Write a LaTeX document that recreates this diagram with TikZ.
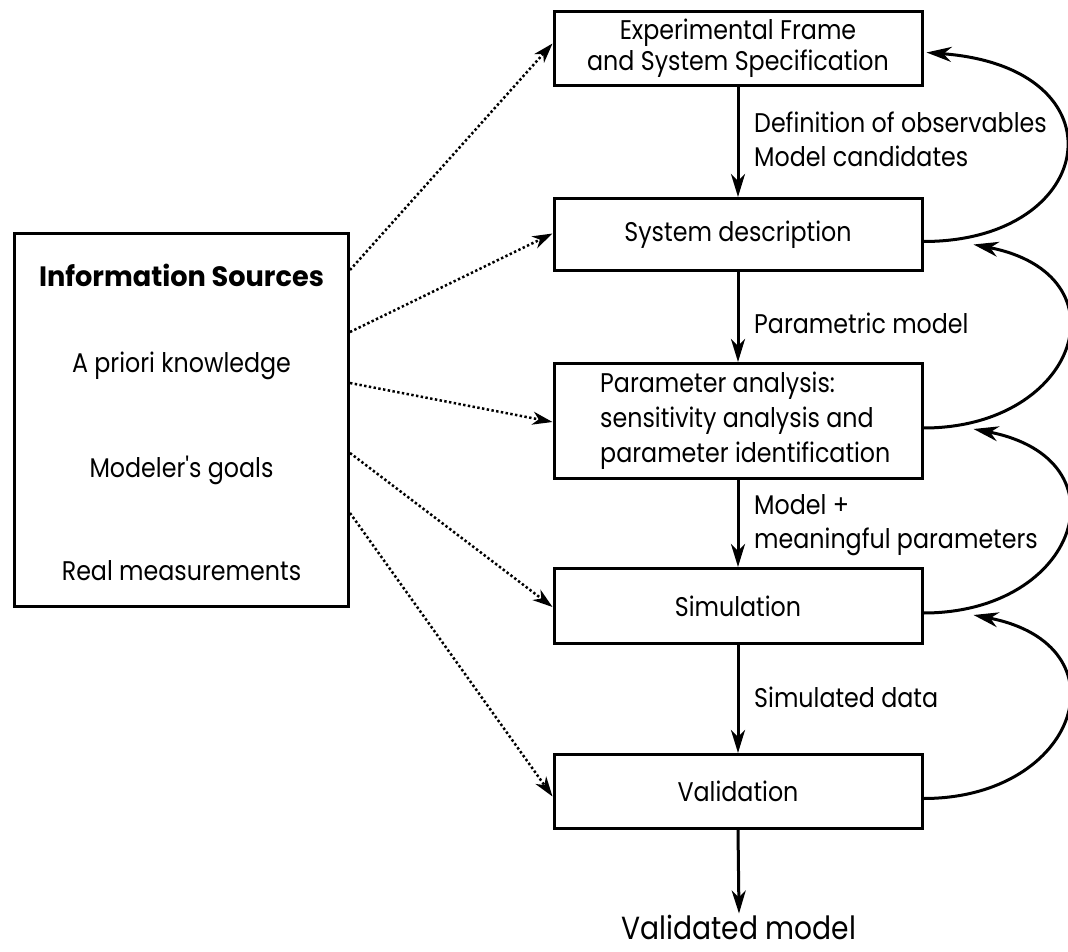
\documentclass[tikz,border=0pt]{standalone}
\usepackage{fontspec}
\setmainfont{Poppins}[FakeStretch=0.88]
\newfontfamily\headfont{Poppins}[FakeStretch=0.97]
% same face without the TeX quote mapping, for a straight apostrophe
\newfontfamily\plainfont{Poppins}[FakeStretch=0.88]
\usetikzlibrary{arrows.meta,calc}
\begin{document}
\begin{tikzpicture}[x=1pt,y=-1pt,
  every node/.style={font=\fontsize{27}{35}\selectfont},
  box/.style={draw, line width=3pt, minimum width=368pt, inner sep=0pt, align=center},
  flow/.style={line width=3pt, -{Stealth[length=23pt,width=14pt,inset=7pt]}},
  feed/.style={line width=3pt, -{Stealth[length=25pt,width=15pt,inset=8pt]}},
  source/.style={line width=2.5pt, dash pattern=on 2.4pt off 2.4pt,
    -{Stealth[length=20pt,width=13pt,inset=6pt]}},
  lbl/.style={anchor=base west, inner sep=0pt},
  itxt/.style={anchor=base, inner sep=0pt}]
\useasboundingbox (0,0) rectangle (1068,952);

% process chain
\node[box, minimum height=74pt]  (frame) at (738,48.5) {Experimental Frame\\[-4pt]and System Specification};
\node[box, minimum height=72pt]  (sysd)  at (738,234.5) {System description};
\node[box, minimum height=115pt] (param) at (738,421) {};
\node[lbl, align=left, anchor=west] (paramtxt) at (600,421)
  {Parameter analysis:\\sensitivity analysis and\\parameter identification};
\node[box, minimum height=75pt]  (sim)   at (738,606) {Simulation};
\node[box, minimum height=74pt]  (valid) at (738,791.5) {Validation};
\node[inner sep=1pt, font=\fontsize{32}{38}\selectfont] (vm) at (739,927) {Validated model};

% arrows between the stages and their labels
\draw[flow] (frame.south) -- (sysd.north);
\draw[flow] (sysd.south)  -- (param.north);
\draw[flow] (param.south) -- (sim.north);
\draw[flow] (sim.south)   -- (valid.north);
\draw[flow] (valid.south) -- (vm.north);

\node[lbl] (l1a) at (754,133) {Definition of observables};
\node[lbl] (l1b) at (754,167) {Model candidates};
\node[lbl] (l2)  at (754,333) {Parametric model};
\node[lbl] (l3a) at (754,514) {Model +};
\node[lbl] (l3b) at (754,548) {meaningful parameters};
\node[lbl] (l4)  at (754,707) {Simulated data};

% information sources
\node[draw, line width=3pt, minimum width=334pt, minimum height=373pt, inner sep=0pt] (info) at (181.5,420) {};
\node[itxt, font=\headfont\fontsize{28}{34}\selectfont\bfseries] (src) at (181.5,286) {Information Sources};
\node[itxt] (prior) at (181.5,372) {A priori knowledge};
\node[itxt, font=\plainfont\fontsize{27}{35}\selectfont] (goals) at (181.5,477) {Modeler's goals};
\node[itxt] (meas)  at (181.5,580) {Real measurements};

\draw[source] ($(info.east)+(0,-150)$) -- ($(frame.west)+(0,-5)$);
\draw[source] ($(info.east)+(0,-88)$)  -- ($(sysd.west)+(0,-1)$);
\draw[source] ($(info.east)+(0,-37)$)  -- ($(param.west)+(0,1)$);
\draw[source] ($(info.east)+(0,33)$)   -- ($(sim.west)+(0,1)$);
\draw[source] ($(info.east)+(0,93)$)   -- ($(valid.west)+(0,5)$);

% feedback loops
\draw[feed] ($(sysd.east)+(0,7)$)  .. controls +(175,0) and +(200,15) .. ($(frame.east)+(3,4)$);
\draw[feed] ($(param.east)+(0,7)$) .. controls +(155,0) and +(155,30) .. ($(sysd.east)+(50,10)$);
\draw[feed] ($(sim.east)+(0,7)$)   .. controls +(155,0) and +(155,30) .. ($(param.east)+(50,8)$);
\draw[feed] ($(valid.east)+(0,7)$) .. controls +(155,0) and +(155,30) .. ($(sim.east)+(50,9)$);
\end{tikzpicture}
\end{document}
